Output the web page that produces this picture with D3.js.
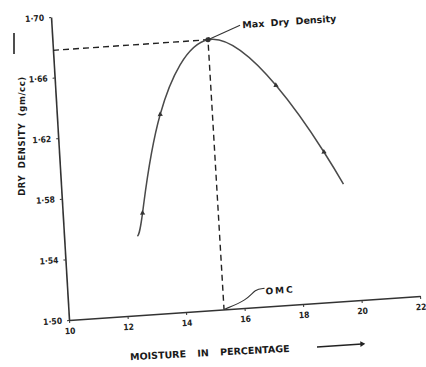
<!DOCTYPE html>
<html>
<head>
<meta charset="utf-8">
<script src="https://cdn.jsdelivr.net/npm/d3@7"></script>
<style>
    body { margin: 0; background: #fff; }
    svg { display: block; }
    .axis text {
        font-family: "DejaVu Sans Condensed", "DejaVu Sans", sans-serif;
        font-size: 8.5px;
        font-weight: bold;
        fill: #222;
    }
    .axis path, .axis line { stroke: #333; }
    .label {
        font-family: "DejaVu Sans", sans-serif;
        font-weight: bold;
        fill: #1a1a1a;
    }
</style>
</head>
<body>
<svg width="426" height="367"></svg>
<script>
// compaction curve
const moisture = [12.5, 12.72, 13.52, 15.3, 17.52, 19.02, 19.62]
const density = [1.552, 1.567, 1.631, 1.678, 1.645, 1.599, 1.577]
const markedPoints = [1, 2, 4, 5]
const xTicks = [10, 12, 14, 16, 18, 20, 22]
const yTicks = [1.50, 1.54, 1.58, 1.62, 1.66, 1.70]
const omc = 15.3
const maxDryDensity = 1.678

const svg = d3.select('svg')

// the scanned page is a bit skewed, so the plot gets a shear to follow it
const origin = [69, 320]
const plotW = 351
const plotH = 303
const shearX = 18 / plotH
const shearY = -24 / plotW

const x = d3.scaleLinear().domain([10, 22]).range([0, plotW])
const y = d3.scaleLinear().domain([1.50, 1.70]).range([0, -plotH])

const plot = svg
    .append('g')
    .attr('transform', `matrix(1, ${shearY}, ${shearX}, 1, ${origin[0]}, ${origin[1]})`)

const xAxis = d3
    .axisBottom(x)
    .tickValues(xTicks)
    .tickSize(3)
    .tickSizeOuter(0)
    .tickPadding(5)
    .tickFormat((d) => d)

const yAxis = d3
    .axisLeft(y)
    .tickValues(yTicks)
    .tickSize(2)
    .tickSizeOuter(0)
    .tickPadding(5)
    .tickFormat((d) => d3.format('.2f')(d).replace('.', '·'))

plot.append('g').attr('class', 'axis').call(xAxis)
plot.append('g').attr('class', 'axis').call(yAxis)
plot.selectAll('.axis path').attr('stroke-width', 1.6)

// dashed guides to max dry density and OMC
plot.append('path')
    .attr('d', d3.line()([
        [x(10), y(maxDryDensity)],
        [x(omc), y(maxDryDensity)],
        [x(omc), y(1.50)],
    ]))
    .attr('fill', 'none')
    .attr('stroke', '#222')
    .attr('stroke-width', 1.4)
    .attr('stroke-dasharray', '6 4')

const points = moisture.map((m, i) => [m, density[i]])

plot.append('path')
    .datum(points)
    .attr('d', d3.line()
        .x((d) => x(d[0]))
        .y((d) => y(d[1]))
        .curve(d3.curveNatural))
    .attr('fill', 'none')
    .attr('stroke', '#4a4a4a')
    .attr('stroke-width', 1.5)

plot.selectAll('path.marker')
    .data(markedPoints.map((i) => points[i]))
    .join('path')
    .attr('class', 'marker')
    .attr('d', d3.symbol().type(d3.symbolTriangle).size(12))
    .attr('transform', (d) => `translate(${x(d[0])}, ${y(d[1])})`)
    .attr('fill', '#333')

plot.append('circle')
    .attr('cx', x(omc))
    .attr('cy', y(maxDryDensity))
    .attr('r', 2.6)
    .attr('fill', '#333')

// annotations
plot.append('line')
    .attr('x1', x(omc))
    .attr('y1', y(maxDryDensity))
    .attr('x2', x(16.42))
    .attr('y2', y(1.686))
    .attr('stroke', '#333')
    .attr('stroke-width', 1.1)

plot.append('text')
    .attr('class', 'label')
    .attr('x', x(16.5))
    .attr('y', y(1.684))
    .attr('font-size', '9.5px')
    .attr('word-spacing', '3px')
    .text('Max Dry Density')

plot.append('path')
    .attr('d', d3.line().curve(d3.curveBasis)([
        [x(omc), y(1.50)],
        [x(16.1), y(1.505)],
        [x(16.4), y(1.512)],
        [x(16.72), y(1.512)],
    ]))
    .attr('fill', 'none')
    .attr('stroke', '#333')
    .attr('stroke-width', 1.1)

plot.append('text')
    .attr('class', 'label')
    .attr('x', x(16.75))
    .attr('y', y(1.508))
    .attr('font-size', '9px')
    .attr('letter-spacing', '2px')
    .text('OMC')

// axis titles
svg.append('text')
    .attr('class', 'label')
    .attr('transform', 'translate(25, 136) rotate(-90)')
    .attr('text-anchor', 'middle')
    .attr('font-size', '8.5px')
    .attr('letter-spacing', '0.6px')
    .attr('word-spacing', '3px')
    .text('DRY DENSITY (gm/cc)')

svg.append('line')
    .attr('x1', 14).attr('y1', 54)
    .attr('x2', 14).attr('y2', 33)
    .attr('stroke', '#222')
    .attr('stroke-width', 1.6)

svg.append('text')
    .attr('class', 'label')
    .attr('transform', 'translate(210, 356) rotate(-3)')
    .attr('text-anchor', 'middle')
    .attr('font-size', '9.5px')
    .attr('word-spacing', '8px')
    .text('MOISTURE IN PERCENTAGE')

svg.append('path')
    .attr('d', d3.line()([[317, 347], [362, 344]]))
    .attr('stroke', '#222')
    .attr('stroke-width', 1.4)

svg.append('path')
    .attr('d', d3.symbol().type(d3.symbolTriangle).size(14))
    .attr('transform', 'translate(362, 344) rotate(87)')
    .attr('fill', '#222')
</script>
</body>
</html>
